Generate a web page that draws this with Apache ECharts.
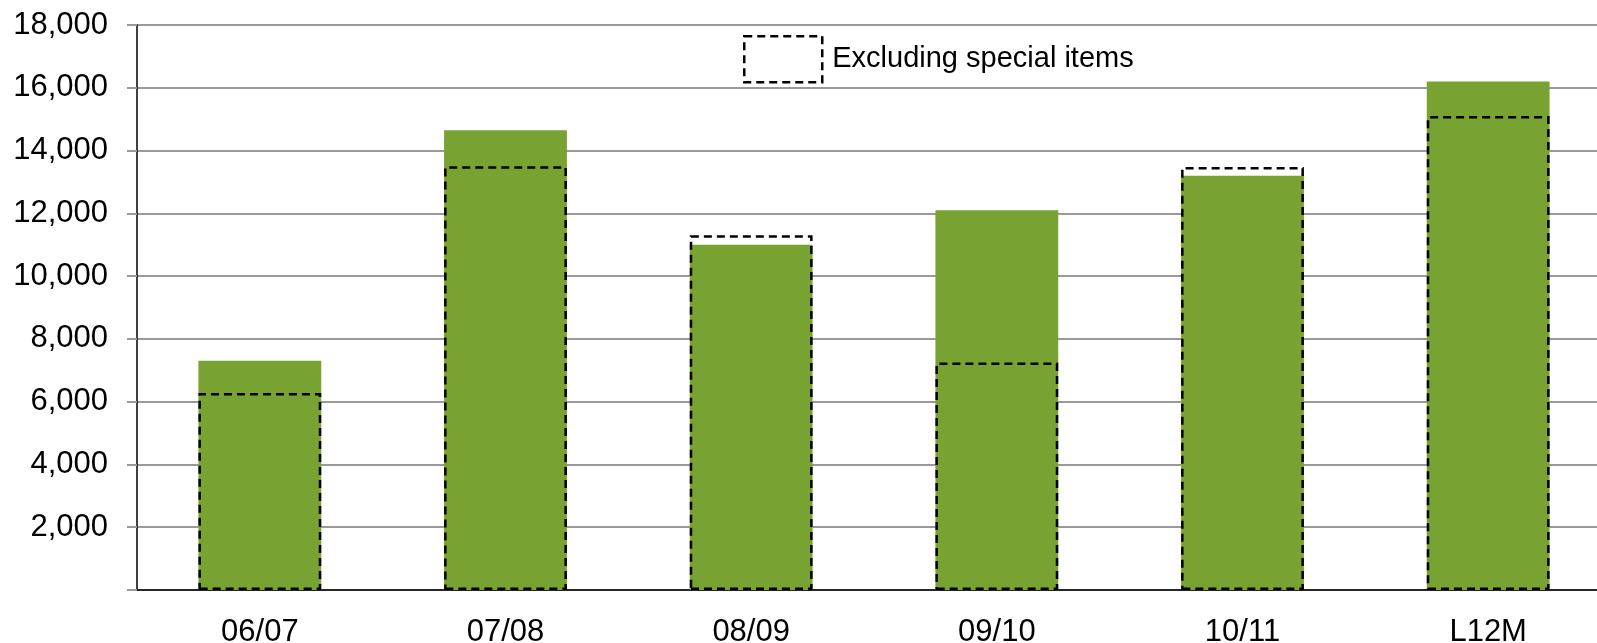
<!DOCTYPE html>
<html>
<head>
<meta charset="utf-8">
<script src="https://cdn.jsdelivr.net/npm/echarts@6/dist/echarts.min.js"></script>
<style>
html,body{margin:0;padding:0;background:#fff;}
#c{width:1597px;height:643px;}
</style>
</head>
<body>
<div id="c"></div>
<script>
const categories = ['06/07', '07/08', '08/09', '09/10', '10/11', 'L12M'];
const reported = [7300, 14650, 11000, 12100, 13200, 16200];
const excludingSpecial = [6280, 13500, 11300, 7250, 13480, 15100];
const yTicks = { min: 0, max: 18000, interval: 2000 };
const legendLabel = 'Excluding special items';

const chart = echarts.init(document.getElementById('c'));
const dashStyle = { color: 'transparent', borderColor: '#000', borderWidth: 2.5, borderType: [8, 5] };
chart.setOption({
  animation: false,
  textStyle: { fontFamily: 'Liberation Sans, Arial, sans-serif' },
  grid: { left: 137, top: 25, width: 1474, bottom: 53, containLabel: false, outerBoundsMode: 'none' },
  legend: {
    left: 743, top: 35, padding: 0,
    itemWidth: 78, itemHeight: 46,
    icon: 'rect',
    data: [{ name: legendLabel, itemStyle: dashStyle }],
    textStyle: { fontSize: 29, color: '#000', fontFamily: 'Liberation Sans, Arial, sans-serif', padding: [0, 0, 0, 5] }
  },
  xAxis: {
    type: 'category',
    data: categories,
    axisLine: { lineStyle: { color: '#000', width: 1.5 } },
    axisTick: { show: false },
    axisLabel: { fontSize: 31, color: '#000', margin: 27 }
  },
  yAxis: {
    type: 'value',
    min: yTicks.min, max: yTicks.max, interval: yTicks.interval,
    axisLine: { show: true, lineStyle: { color: '#000', width: 1.5 } },
    axisTick: { show: true, length: 10, lineStyle: { color: '#999', width: 2 } },
    splitLine: { lineStyle: { color: '#999', width: 2 } },
    axisLabel: {
      fontSize: 31, color: '#000', margin: 29, padding: [4, 0, 0, 0],
      formatter: v => v === 0 ? '' : v.toLocaleString('en-US')
    }
  },
  series: [
    {
      name: 'Reported',
      type: 'bar',
      data: reported,
      barWidth: '50%',
      barGap: '-100%',
      itemStyle: { color: '#78a232' },
      z: 2
    },
    {
      name: legendLabel,
      type: 'bar',
      data: excludingSpecial,
      barWidth: '50%',
      barGap: '-100%',
      itemStyle: dashStyle,
      z: 3
    }
  ]
});
</script>
</body>
</html>
